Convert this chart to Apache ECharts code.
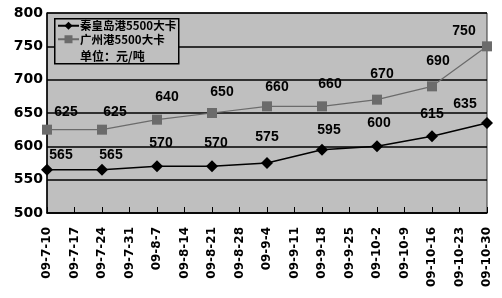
<!DOCTYPE html>
<html><head><meta charset="utf-8">
<script src="https://cdn.jsdelivr.net/npm/echarts@6/dist/echarts.min.js"></script>
<style>html,body{margin:0;padding:0;background:#fff}#c{width:502px;height:298px}</style>
</head><body><div id="c"></div>
<script>
var categories = ['09-7-10','09-7-17','09-7-24','09-7-31','09-8-7','09-8-14','09-8-21','09-8-28','09-9-4','09-9-11','09-9-18','09-9-25','09-10-2','09-10-9','09-10-16','09-10-23','09-10-30'];
var qhdValues = [565, null, 565, null, 570, null, 570, null, 575, null, 595, null, 600, null, 615, null, 635];
var gzValues = [625, null, 625, null, 640, null, 650, null, 660, null, 660, null, 670, null, 690, null, 750];
var seriesNames = ['秦皇岛港5500大卡', '广州港5500大卡'];
var unitText = '单位：元/吨';

// label placement styling (offsets from each marker, in px)
var qhdLabelShift = [[14,-15],null,[9,-15],null,[4,-23],null,[4,-23],null,[0,-26],null,[7,-20],null,[2,-23],null,[0,-22],null,[-22,-19]];
var gzLabelShift = [[19,-18],null,[13,-18],null,[10,-23],null,[10,-21],null,[10,-19],null,[8,-22],null,[5,-26],null,[6,-25],null,[-23,-15]];

var numFont = '"DejaVu Sans"';
var lblFont = '"Liberation Sans"';
var cjkFont = '"Noto Sans CJK SC", sans-serif';
var chart = echarts.init(document.getElementById('c'));
function mk(vals, shifts) {
  return vals.map(function (v, i) {
    if (v === null) return null;
    return { value: v, label: { offset: shifts[i] } };
  });
}
var labelStyle = { show: true, position: 'inside', fontFamily: lblFont, fontWeight: 'bold', fontSize: 14, color: '#000' };
chart.setOption({
  animation: false,
  grid: { left: 47, right: 15, top: 13, bottom: 85, show: true, backgroundColor: '#bfbfbf', borderColor: '#333', borderWidth: 1 },
  legend: {
    data: seriesNames,
    orient: 'vertical', left: 57, top: 20,
    padding: 0, itemGap: 2, itemWidth: 21, itemHeight: 10,
    textStyle: { fontFamily: cjkFont, fontWeight: 'bold', fontSize: 11.5, color: '#000', padding: [0, 0, 0, -4] }
  },
  graphic: [
    { type: 'rect', left: 54, top: 18, z: 3, shape: { width: 124, height: 45 }, style: { fill: '#bfbfbf', stroke: '#000', lineWidth: 1.5 } },
    { type: 'text', left: 80, top: 50, z: 10, style: { text: unitText, font: 'bold 12px "Noto Sans CJK SC"', fill: '#000' } }
  ],
  xAxis: {
    type: 'category', data: categories, boundaryGap: false,
    axisLine: { lineStyle: { color: '#000', width: 1.5 } },
    axisTick: { inside: true, length: 6, lineStyle: { color: '#000' } },
    axisLabel: { rotate: 90, interval: 0, fontFamily: numFont, fontWeight: 'bold', fontSize: 12, color: '#000', margin: 14 }
  },
  yAxis: {
    type: 'value', min: 500, max: 800, interval: 50,
    axisLine: { show: true, lineStyle: { color: '#000', width: 1.5 } },
    axisTick: { show: false },
    splitLine: { lineStyle: { color: '#000', width: 1.5 } },
    axisLabel: { fontFamily: numFont, fontWeight: 'bold', fontSize: 14, color: '#000', margin: 4 }
  },
  series: [
    {
      name: seriesNames[0], type: 'line', data: mk(qhdValues, qhdLabelShift), connectNulls: true,
      symbol: 'diamond', symbolSize: 12,
      itemStyle: { color: '#000' }, lineStyle: { color: '#000', width: 1.5 },
      label: labelStyle
    },
    {
      name: seriesNames[1], type: 'line', data: mk(gzValues, gzLabelShift), connectNulls: true,
      symbol: 'rect', symbolSize: 10,
      itemStyle: { color: '#6b6b6b' }, lineStyle: { color: '#6b6b6b', width: 1.2 },
      label: labelStyle
    }
  ]
});
</script></body></html>
